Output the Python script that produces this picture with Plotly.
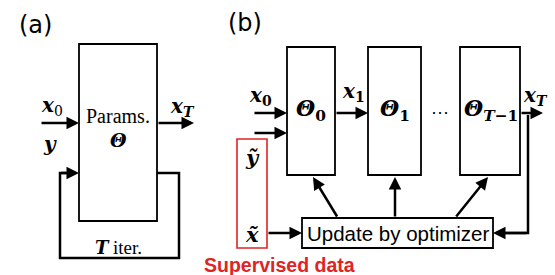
import plotly.graph_objects as go

W, H = 555, 275
SERIF = "Liberation Serif"
MATH = "DejaVu Serif"
SANS = "Liberation Sans"
LABEL = "DejaVu Sans"
RED = "#e02424"

# ---- text content ----
panel_labels = ["(a)", "(b)"]
box_a_text = ["Params.", "<b><i>Θ</i></b>"]
a_inputs = ["<b><i>x</i></b><sub>0</sub>", "<b><i>y</i></b>"]
a_output = "<b><i>x<sub>T</sub></i></b>"
a_loop_label = ["<b><i>T</i></b>", "iter."]
b_thetas = ["<b><i>Θ</i><sub>0</sub></b>", "<b><i>Θ</i><sub>1</sub></b>", "<b><i>Θ</i><sub><i>T</i>−1</sub></b>"]
b_signals = ["<b><i>x</i><sub>0</sub></b>", "<b><i>x</i><sub>1</sub></b>", "<b><i>x<sub>T</sub></i></b>"]
b_supervised = ["<b><i>ỹ</i></b>", "<b><i>x̃</i></b>"]
optimizer_text = "Update by optimizer"
supervised_text = "<b>Supervised data</b>"
dots_text = "···"

# ---- geometry (pixel coordinates, y downward) ----
box_a = (79, 44, 157, 221)
boxes_b = [(287, 47, 335, 175), (368, 47, 421, 175), (460, 47, 520, 175)]
opt_box = (302, 218, 493, 248)
red_box = (237, 139, 267, 248)

fig = go.Figure()
shapes = []
ann = []

def rect(b, color="black", width=1.8):
    shapes.append(dict(type="rect", x0=b[0], y0=b[1], x1=b[2], y1=b[3],
                       xref="x", yref="y", line=dict(color=color, width=width),
                       fillcolor="rgba(0,0,0,0)"))

def path(d, width=2.5):
    shapes.append(dict(type="path", path=d, xref="x", yref="y",
                       line=dict(color="black", width=width)))

def arrow(x0, y0, x1, y1):
    ann.append(dict(x=x1, y=y1, ax=x0, ay=y0, xref="x", yref="y", axref="x", ayref="y",
                    text="", showarrow=True, arrowhead=2, arrowsize=1.0, arrowwidth=2.5,
                    arrowcolor="black", standoff=0, startstandoff=0))

def text(x, y, s, size, family=SERIF, color="black", xanchor="center"):
    ann.append(dict(x=x, y=y, xref="x", yref="y", text=s, showarrow=False,
                    font=dict(family=family, size=size, color=color),
                    xanchor=xanchor, yanchor="middle"))

# Panel labels
text(35, 25, panel_labels[0], 24, family=LABEL)
text(245, 23, panel_labels[1], 24, family=LABEL)

# ---- Panel (a) ----
rect(box_a)
text(118, 116, box_a_text[0], 20)
text(118, 140, box_a_text[1], 19, family=MATH)
arrow(40, 123, 79, 123)
text(52, 106, a_inputs[0], 20, family=MATH)
text(50, 144, a_inputs[1], 20, family=MATH)
arrow(157, 123, 194, 123)
text(182, 107, a_output, 20, family=MATH)
path("M 157 173 L 179 173 L 179 258 L 60 258 L 60 173 L 70 173")
arrow(60, 173, 79, 173)
text(102, 247, a_loop_label[0], 18, family=MATH)
text(111, 247, a_loop_label[1], 19, xanchor="left")

# ---- Panel (b) ----
theta_x = [311, 395, 491]
for b, t, tx in zip(boxes_b, b_thetas, theta_x):
    rect(b)
    text(tx, 110, t, 22, family=MATH)

arrow(253, 113, 287, 113)
arrow(253, 133, 287, 133)
text(260, 96, b_signals[0], 20, family=MATH)
arrow(335, 113, 368, 113)
text(353, 92, b_signals[1], 20, family=MATH)
text(440, 112, dots_text, 18, family=SANS)
arrow(520, 113, 543, 113)
text(535, 96, b_signals[2], 20, family=MATH)

# feedback from output to optimizer
path("M 528 115 L 528 233 L 505 233")
arrow(528, 233, 493, 233)

# optimizer box
rect(opt_box)
text(398, 233, optimizer_text, 20.5, family=SANS)

# arrows from optimizer to boxes
arrow(338, 218, 313, 177)
arrow(395, 218, 395, 177)
arrow(455, 218, 488, 177)

# supervised data
rect(red_box, color=RED, width=1.6)
text(252, 157, b_supervised[0], 21, family=MATH)
text(252, 234, b_supervised[1], 21, family=MATH)
arrow(267, 233, 302, 233)
text(202, 265, supervised_text, 19.5, family=SANS, color=RED, xanchor="left")

fig.update_layout(
    width=W, height=H, margin=dict(l=0, r=0, t=0, b=0),
    paper_bgcolor="white", plot_bgcolor="white",
    xaxis=dict(range=[0, W], visible=False, fixedrange=True),
    yaxis=dict(range=[H, 0], visible=False, fixedrange=True),
    shapes=shapes, annotations=ann, showlegend=False,
)
fig.write_html("out.html", config={"displayModeBar": False},
               post_script="document.body.style.margin='0';document.body.style.overflow='hidden';")
